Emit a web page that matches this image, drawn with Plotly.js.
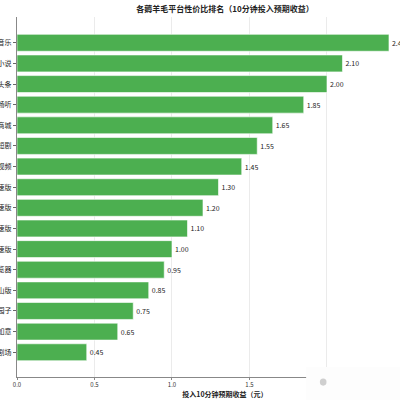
<!DOCTYPE html>
<html>
<head>
<meta charset="utf-8">
<script src="https://cdn.plot.ly/plotly-3.0.1.min.js"></script>
<style>
    html, body { margin: 0; padding: 0; overflow: hidden; background: #fff; }
    #chart { width: 440px; height: 400px; }
</style>
</head>
<body>
<div id="chart"></div>
<script>
// Platforms, top to bottom (names are cut off at the left edge of the picture)
let platforms = [
    "汽水音乐", "番茄小说", "今日头条", "番茄畅听", "点淘商城", "红果短剧",
    "快手视频", "抖音极速版", "快手极速版", "头条极速版", "百度极速版",
    "夸克浏览器", "抖音火山版", "淘宝园子", "点淘如意", "河马剧场"
];
let earnings = [2.40, 2.10, 2.00, 1.85, 1.65, 1.55, 1.45, 1.30, 1.20, 1.10, 1.00, 0.95, 0.85, 0.75, 0.65, 0.45];
let xTicks = [0, 0.5, 1.0, 1.5, 2.0];

function createRankingChart(elementId) {
    let trace = {
        type: 'bar',
        orientation: 'h',
        x: earnings,
        y: platforms,
        width: 0.82,
        marker: {
            color: '#4caf50',
            line: { color: '#ffffff', width: 0.6 }
        },
        text: earnings.map(v => v.toFixed(2)),
        textposition: 'outside',
        cliponaxis: false,
        textfont: { family: 'Noto Sans CJK SC, sans-serif', size: 7, color: '#222' },
        hoverinfo: 'none'
    };
    let data = [trace];

    // Layout of the chart
    let layout = {
        width: 440,
        height: 400,
        paper_bgcolor: '#ffffff',
        plot_bgcolor: '#ffffff',
        showlegend: false,
        font: { family: 'Noto Sans CJK SC, sans-serif', color: '#222' },
        title: {
            text: '<b>各薅羊毛平台性价比排名（10分钟投入预期收益）</b>',
            font: { size: 8, color: '#222' },
            x: 0.5,
            xref: 'paper',
            y: 0.978,
            yref: 'container',
            yanchor: 'middle'
        },
        xaxis: {
            range: [0, 2.684],
            tickvals: xTicks,
            tickformat: '.1f',
            tickfont: { size: 6, color: '#333' },
            ticks: 'outside',
            ticklen: 2,
            tickcolor: '#888',
            showgrid: true,
            gridcolor: '#e6e6e6',
            gridwidth: 0.8,
            zeroline: false,
            showline: true,
            linecolor: '#888',
            linewidth: 1,
            fixedrange: true,
            title: {
                text: '<b>投入10分钟预期收益（元）</b>',
                font: { size: 7, color: '#222' },
                standoff: 2
            }
        },
        yaxis: {
            type: 'category',
            range: [16.2, -1.25],
            tickfont: { size: 7, color: '#222' },
            ticks: 'outside',
            ticklen: 3,
            tickcolor: '#666',
            showgrid: false,
            zeroline: false,
            showline: true,
            linecolor: '#888',
            linewidth: 1,
            fixedrange: true
        },
        margin: { l: 17, r: 7, t: 17, b: 23, autoexpand: false },
        bargap: 0.18,
        // watermark patch over the lower right corner
        shapes: [
            {
                type: 'rect', xref: 'paper', yref: 'paper', layer: 'above',
                x0: 0.695, x1: 1.1, y0: 0.028, y1: -0.07,
                fillcolor: '#fdfdfd', line: { width: 0 }
            },
            {
                type: 'circle', xref: 'paper', yref: 'paper', layer: 'above',
                x0: 0.728, x1: 0.744, y0: -0.004, y1: -0.024,
                fillcolor: '#cfcfcf', line: { width: 0 }
            }
        ]
    };

    // General chart configuration
    let config = {
        displayModeBar: false,
        staticPlot: true
    };

    let htmlElement = document.getElementById(elementId);
    Plotly.newPlot(htmlElement, data, layout, config);
}

createRankingChart('chart');
</script>
</body>
</html>
